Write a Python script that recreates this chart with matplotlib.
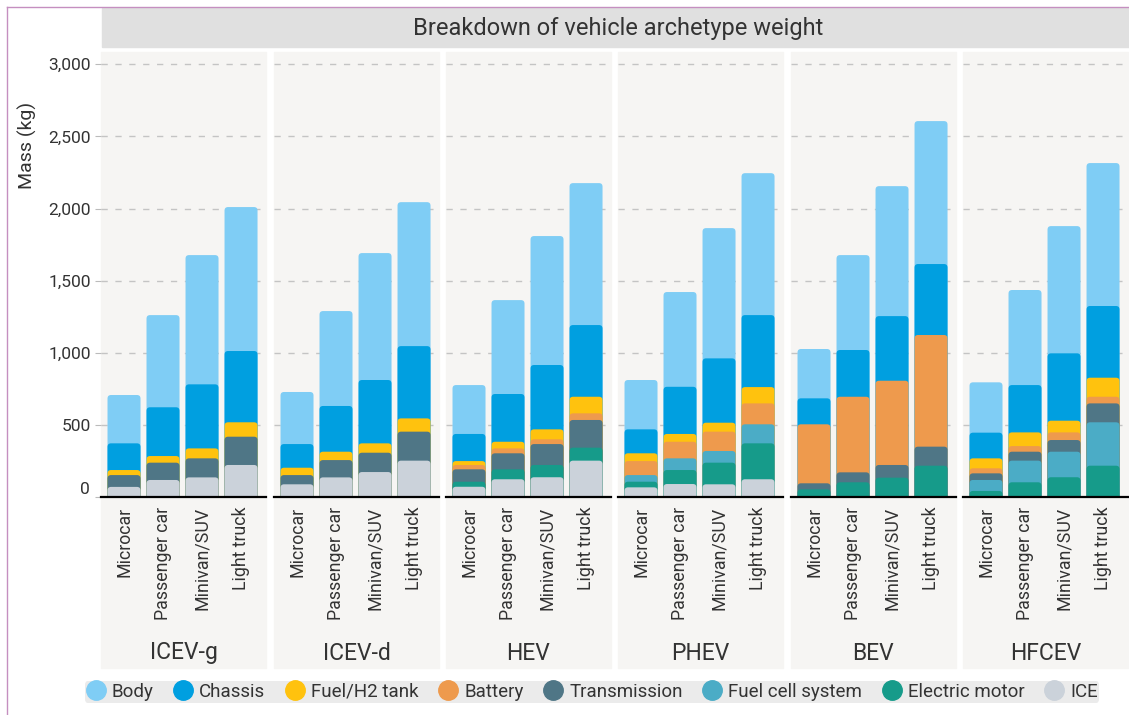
import matplotlib
matplotlib.use("Agg")
import matplotlib.pyplot as plt
from matplotlib.patches import Rectangle, FancyBboxPatch
from matplotlib.lines import Line2D

plt.rcParams['font.family'] = ['Roboto', 'DejaVu Sans']

# data (kg), rows = powertrain, cols = size class
powertrains = ['ICEV-g', 'ICEV-d', 'HEV', 'PHEV', 'BEV', 'HFCEV']
sizes = ['Microcar', 'Passenger car', 'Minivan/SUV', 'Light truck']

ice = [[70, 118, 136, 222], [88, 136, 173, 252], [71, 123, 137, 252],
       [67, 90, 88, 123], [0, 0, 0, 0], [0, 0, 0, 0]]
e_motor = [[0, 0, 0, 0], [0, 0, 0, 0], [35, 69, 85, 90],
           [39, 97, 150, 249], [53, 102, 134, 217], [42, 102, 137, 217]]
fuel_cell = [[0, 0, 0, 0], [0, 0, 0, 0], [0, 0, 0, 0],
             [46, 81, 81, 132], [0, 0, 0, 0], [76, 150, 177, 301]]
transmission = [[82, 120, 132, 196], [64, 120, 134, 201], [86, 111, 145, 192],
                [0, 0, 0, 0], [42, 69, 88, 132], [46, 62, 81, 131]]
battery = [[0, 0, 0, 0], [0, 0, 0, 0], [30, 34, 33, 46],
           [97, 115, 134, 145], [409, 524, 584, 774], [35, 39, 53, 46]]
fuel_tank = [[35, 46, 69, 100], [51, 58, 65, 92], [27, 46, 69, 115],
             [54, 54, 62, 113], [0, 0, 0, 0], [69, 95, 81, 132]]
chassis = [[185, 338, 444, 494], [164, 317, 439, 501], [188, 331, 446, 497],
           [166, 327, 446, 499], [180, 324, 448, 492], [178, 328, 467, 497]]
body = [[335, 639, 896, 998], [361, 658, 880, 998], [339, 651, 894, 984],
        [342, 657, 903, 984], [342, 658, 901, 991], [349, 659, 882, 991]]

# stack order bottom -> top
components = ['ICE', 'Electric motor', 'Fuel cell system', 'Transmission',
              'Battery', 'Fuel/H2 tank', 'Chassis', 'Body']
comp_data = [ice, e_motor, fuel_cell, transmission, battery, fuel_tank, chassis, body]
colors = ['#cbd2da', '#169b8a', '#4bacc6', '#4f7686',
          '#ee9a4d', '#ffc20e', '#009fe0', '#7fcdf5']

W, H = 1129, 715
fig = plt.figure(figsize=(W / 100, H / 100), dpi=100)
fx = lambda px: px / W
fy = lambda py: 1 - py / H
txt = '#333333'

# outer border (left/top)
fig.add_artist(Line2D([fx(7), fx(7)], [fy(7), 0], transform=fig.transFigure, color='#c58fc0', lw=1))
fig.add_artist(Line2D([fx(7), 1], [fy(7), fy(7)], transform=fig.transFigure, color='#c58fc0', lw=1))

# title strip
fig.patches.append(Rectangle((fx(102), fy(47)), 1 - fx(102), (47 - 8) / H,
                             transform=fig.transFigure, color='#e0e0e0', zorder=-2))
fig.text(fx(618), fy(28), 'Breakdown of vehicle archetype weight', ha='center', va='center',
         fontsize=17, color=txt)
fig.text(fx(27), fy(145), 'Mass (kg)', rotation=90, ha='center', va='center', fontsize=14, color=txt)

lefts = [101, 274, 446, 618, 791, 963]
pw = 165
top_px, base_px = 52, 497
ymax = 3085
xlo, xhi = -0.59, 3.64
xu = (xhi - xlo) / pw          # x units per px
yu = ymax / (base_px - top_px)  # y units per px
rpx = 3.5

for i, name in enumerate(powertrains):
    x0 = lefts[i]
    fig.patches.append(Rectangle((fx(x0), fy(668)), pw / W, (668 - top_px) / H,
                                 transform=fig.transFigure, color='#f6f5f3', zorder=-2))
    ax = fig.add_axes([fx(x0), fy(base_px), pw / W, (base_px - top_px) / H])
    ax.set_facecolor('none')
    ax.set_xlim(xlo, xhi)
    ax.set_ylim(0, ymax)
    for s in ax.spines.values():
        s.set_visible(False)
    ax.axhline(0, color='black', lw=1.6, zorder=5, clip_on=False)
    ax.set_yticks([0, 500, 1000, 1500, 2000, 2500, 3000])
    ax.yaxis.grid(True, color='#c4c4c4', lw=1, linestyle=(0, (4.5, 5.5)))
    ax.set_axisbelow(True)
    ax.set_xticks(range(len(sizes)))
    ax.set_xticklabels(sizes, rotation=90, va='top', ha='center', fontsize=12.8, color=txt)
    ax.tick_params(axis='x', length=0, pad=7)
    if i == 0:
        ax.set_yticklabels(['', '500', '1,000', '1,500', '2,000', '2,500', '3,000'],
                           fontsize=12.5, color=txt)
        ax.tick_params(axis='y', length=4.5, color='#bbbbbb', pad=3)
        ax.annotate('0', xy=(0, 0), xycoords=('axes fraction', 'data'), xytext=(-11, 7),
                    textcoords='offset pixels', ha='right', va='center', fontsize=12.5, color=txt)
    else:
        ax.tick_params(axis='y', length=0, labelleft=False)

    # cumulative tops, draw from the top component downwards
    cum = [0, 0, 0, 0]
    tops = []
    for d in comp_data:
        cum = [c + v for c, v in zip(cum, d[i])]
        tops.append((list(cum), d[i]))
    for k in range(len(components) - 1, -1, -1):
        heights, vals = tops[k]
        bars = ax.bar(range(len(sizes)), heights, width=0.846, color=colors[k])
        for p, v in zip(bars.patches, vals):
            x, y = p.get_xy()
            w, h = p.get_width(), p.get_height()
            p.remove()
            if v == 0:
                continue
            ext = 40
            fb = FancyBboxPatch((x, y - ext), w, h + ext,
                                boxstyle=f"round,pad=0,rounding_size={rpx * xu}",
                                mutation_aspect=yu / xu, fc=colors[k], ec='none', zorder=2)
            ax.add_patch(fb)

    fig.text(fx(x0 + pw / 2), fy(653), name, ha='center', va='center', fontsize=16.5, color=txt)

# legend
handles = [Line2D([], [], marker='o', ls='', markersize=14, color=colors[k], label=components[k])
           for k in range(len(components) - 1, -1, -1)]
leg = fig.legend(handles=handles, ncol=8, loc='center', bbox_to_anchor=(fx(592), fy(692)),
                 frameon=True, facecolor='#ebebeb', edgecolor='none', fancybox=True, framealpha=1,
                 fontsize=13.5, handletextpad=0.35, columnspacing=1.08, borderpad=0.1,
                 handlelength=1.0, labelcolor=txt)

fig.savefig('out.png', dpi=100)
